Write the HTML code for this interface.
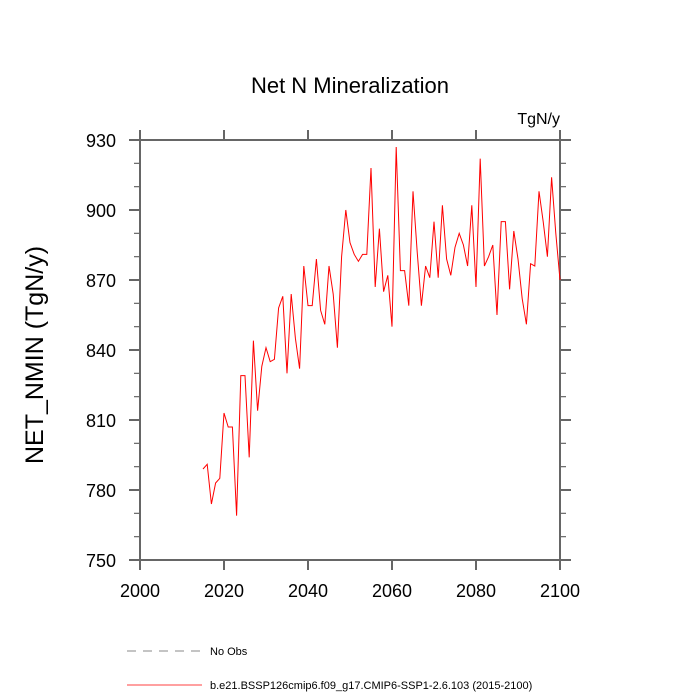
<!DOCTYPE html>
<html><head><meta charset="utf-8"><style>body{margin:0;background:#fff}svg{display:block;font-family:"Liberation Sans",sans-serif}</style></head>
<body>
<svg id="c" width="700" height="700">
<text x="350" y="93" text-anchor="middle" font-size="22">Net N Mineralization</text>
<text x="560" y="124" text-anchor="end" font-size="16">TgN/y</text>
<text transform="translate(43,355) rotate(-90)" text-anchor="middle" font-size="25">NET_NMIN  (TgN/y)</text>
<g id="axes"></g>
<g id="series"></g>
<g>
<line x1="127" y1="651" x2="202" y2="651" stroke="#888" stroke-dasharray="9,7"/>
<text x="210" y="655" font-size="11">No Obs</text>
<line x1="127" y1="685" x2="202" y2="685" stroke="red" stroke-width="0.8"/>
<text x="210" y="689" font-size="11">b.e21.BSSP126cmip6.f09_g17.CMIP6-SSP1-2.6.103 (2015-2100)</text>
</g>
</svg>
<script>
const years=[];for(let y=2015;y<=2100;y++)years.push(y);
const values=[789,791,774,783,785,813,807,807,769,829,829,794,844,814,833,841,835,836,858,863,830,864,845,832,876,859,859,879,857,851,876,864,841,880,900,886,881,878,881,881,918,867,892,865,872,850,927,874,874,859,908,882,859,876,871,895,871,902,879,872,884,890,885,876,902,867,922,876,880,885,855,895,895,866,891,879,862,851,877,876,908,895,880,914,890,870];
const xTicks=[2000,2020,2040,2060,2080,2100];
const yTicks=[750,780,810,840,870,900,930];
const X=v=>140+(v-2000)*4.2, Y=v=>560-(v-750)*420/180;
const ns='http://www.w3.org/2000/svg';
const ax=document.getElementById('axes'),se=document.getElementById('series');
function mk(p,t,a){const e=document.createElementNS(ns,t);for(const k in a)e.setAttribute(k,a[k]);p.appendChild(e);return e;}
const fr=mk(ax,'rect',{x:140,y:140,width:420,height:420,fill:'none',stroke:'#666','stroke-width':2});


xTicks.forEach(t=>{const x=X(t);
mk(ax,'line',{x1:x,y1:560,x2:x,y2:570,stroke:'#666','stroke-width':2});
mk(ax,'line',{x1:x,y1:140,x2:x,y2:130,stroke:'#666','stroke-width':2});
const tx=mk(ax,'text',{x:x,y:597,'text-anchor':'middle','font-size':18});tx.textContent=t;

});
for(let v=750;v<=930;v+=10){const y=Y(v),maj=(v-750)%30==0,l=maj?11:6;
mk(ax,'line',{x1:140,y1:y,x2:140-l,y2:y,stroke:'#666','stroke-width':maj?2:1.2});
mk(ax,'line',{x1:560,y1:y,x2:560+l,y2:y,stroke:'#666','stroke-width':maj?2:1.2});}
yTicks.forEach(t=>{const tx=mk(ax,'text',{x:116,y:Y(t)+7,'text-anchor':'end','font-size':18});tx.textContent=t;

});
const pl=mk(se,'polyline',{points:years.map((y,i)=>X(y)+','+Y(values[i])).join(' '),fill:'none',stroke:'red','stroke-width':1});


</script>
</body></html>
